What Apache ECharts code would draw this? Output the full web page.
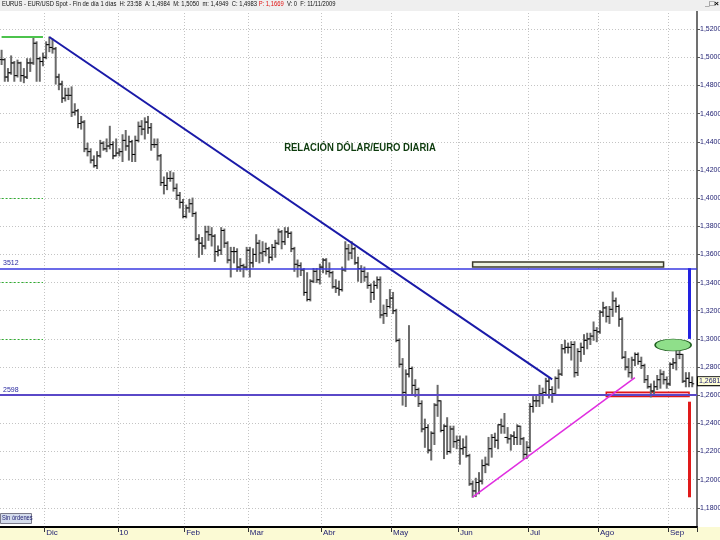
<!DOCTYPE html>
<html><head><meta charset="utf-8">
<script src="https://cdn.jsdelivr.net/npm/echarts@6/dist/echarts.min.js"></script>
<style>html,body{margin:0;padding:0;background:#fff}#c{width:720px;height:540px}</style>
</head><body><div id="c"></div>
<script>
// ---- categories (trading days, dd/mm/yy; last slot is the empty space before the axis) ----
const dates = [
'11/11/09','12/11/09','13/11/09','16/11/09','17/11/09','18/11/09','19/11/09','20/11/09','23/11/09','24/11/09','25/11/09','26/11/09','27/11/09','30/11/09',
'01/12/09','02/12/09','03/12/09','04/12/09','07/12/09','08/12/09','09/12/09','10/12/09','11/12/09','14/12/09','15/12/09','16/12/09','17/12/09','18/12/09','21/12/09','22/12/09','23/12/09','24/12/09','25/12/09','28/12/09','29/12/09','30/12/09','31/12/09',
'01/01/10','04/01/10','05/01/10','06/01/10','07/01/10','08/01/10','11/01/10','12/01/10','13/01/10','14/01/10','15/01/10','18/01/10','19/01/10','20/01/10','21/01/10','22/01/10','25/01/10','26/01/10','27/01/10','28/01/10','29/01/10',
'01/02/10','02/02/10','03/02/10','04/02/10','05/02/10','08/02/10','09/02/10','10/02/10','11/02/10','12/02/10','15/02/10','16/02/10','17/02/10','18/02/10','19/02/10','22/02/10','23/02/10','24/02/10','25/02/10','26/02/10',
'01/03/10','02/03/10','03/03/10','04/03/10','05/03/10','08/03/10','09/03/10','10/03/10','11/03/10','12/03/10','15/03/10','16/03/10','17/03/10','18/03/10','19/03/10','22/03/10','23/03/10','24/03/10','25/03/10','26/03/10','29/03/10','30/03/10','31/03/10',
'01/04/10','02/04/10','05/04/10','06/04/10','07/04/10','08/04/10','09/04/10','12/04/10','13/04/10','14/04/10','15/04/10','16/04/10','19/04/10','20/04/10','21/04/10','22/04/10','23/04/10','26/04/10','27/04/10','28/04/10','29/04/10','30/04/10',
'03/05/10','04/05/10','05/05/10','06/05/10','07/05/10','10/05/10','11/05/10','12/05/10','13/05/10','14/05/10','17/05/10','18/05/10','19/05/10','20/05/10','21/05/10','24/05/10','25/05/10','26/05/10','27/05/10','28/05/10','31/05/10',
'01/06/10','02/06/10','03/06/10','04/06/10','07/06/10','08/06/10','09/06/10','10/06/10','11/06/10','14/06/10','15/06/10','16/06/10','17/06/10','18/06/10','21/06/10','22/06/10','23/06/10','24/06/10','25/06/10','28/06/10','29/06/10','30/06/10',
'01/07/10','02/07/10','05/07/10','06/07/10','07/07/10','08/07/10','09/07/10','12/07/10','13/07/10','14/07/10','15/07/10','16/07/10','19/07/10','20/07/10','21/07/10','22/07/10','23/07/10','26/07/10','27/07/10','28/07/10','29/07/10','30/07/10',
'02/08/10','03/08/10','04/08/10','05/08/10','06/08/10','09/08/10','10/08/10','11/08/10','12/08/10','13/08/10','16/08/10','17/08/10','18/08/10','19/08/10','20/08/10','23/08/10','24/08/10','25/08/10','26/08/10','27/08/10','30/08/10','31/08/10',
'01/09/10','02/09/10','03/09/10','06/09/10','07/09/10','08/09/10','09/09/10','10/09/10','13/09/10'
];
// ---- month tick labels ----
const monthStarts = ['01/12/09','01/01/10','01/02/10','01/03/10','01/04/10','03/05/10','01/06/10','01/07/10','02/08/10','01/09/10'];
const monthLabels = ['Dic','10','Feb','Mar','Abr','May','Jun','Jul','Ago','Sep'];
// ---- daily OHLC: [open, high, low, close] ----
const ohlc = [
[1.4984,1.5050,1.4949,1.4983],[1.4983,1.4990,1.4830,1.4860],[1.4860,1.4920,1.4830,1.4890],[1.4890,1.5010,1.4880,1.4960],[1.4960,1.4970,1.4830,1.4870],[1.4870,1.4980,1.4860,1.4960],[1.4960,1.4965,1.4830,1.4870],[1.4870,1.4920,1.4820,1.4860],[1.4860,1.4990,1.4850,1.4960],[1.4960,1.4990,1.4900,1.4960],[1.4960,1.5144,1.4950,1.5100],[1.5100,1.5110,1.4830,1.4990],[1.4990,1.5000,1.4830,1.4970],[1.4970,1.5030,1.4940,1.5000],
[1.5000,1.5110,1.4990,1.5090],[1.5090,1.5144,1.5040,1.5070],[1.5070,1.5130,1.5030,1.5060],[1.5060,1.5070,1.4810,1.4860],[1.4860,1.4880,1.4770,1.4810],[1.4810,1.4830,1.4680,1.4710],[1.4710,1.4780,1.4690,1.4730],[1.4730,1.4780,1.4700,1.4730],[1.4730,1.4790,1.4580,1.4610],[1.4610,1.4670,1.4590,1.4620],[1.4620,1.4630,1.4500,1.4530],[1.4530,1.4580,1.4490,1.4540],[1.4540,1.4550,1.4330,1.4350],[1.4350,1.4390,1.4300,1.4330],[1.4330,1.4350,1.4250,1.4270],[1.4270,1.4300,1.4220,1.4230],[1.4230,1.4330,1.4210,1.4300],[1.4300,1.4410,1.4290,1.4390],[1.4390,1.4400,1.4340,1.4350],[1.4350,1.4420,1.4330,1.4370],[1.4370,1.4510,1.4350,1.4380],[1.4380,1.4400,1.4280,1.4300],[1.4300,1.4420,1.4300,1.4320],
[1.4320,1.4350,1.4300,1.4330],[1.4330,1.4450,1.4260,1.4410],[1.4410,1.4480,1.4340,1.4370],[1.4370,1.4440,1.4270,1.4400],[1.4400,1.4410,1.4260,1.4310],[1.4310,1.4440,1.4260,1.4410],[1.4410,1.4540,1.4400,1.4510],[1.4510,1.4550,1.4450,1.4490],[1.4490,1.4570,1.4420,1.4540],[1.4540,1.4580,1.4460,1.4500],[1.4500,1.4530,1.4340,1.4380],[1.4380,1.4420,1.4360,1.4380],[1.4380,1.4420,1.4270,1.4300],[1.4300,1.4310,1.4090,1.4110],[1.4110,1.4150,1.4030,1.4090],[1.4090,1.4180,1.4060,1.4140],[1.4140,1.4190,1.4120,1.4140],[1.4140,1.4180,1.4050,1.4070],[1.4070,1.4100,1.3990,1.4020],[1.4020,1.4040,1.3930,1.3970],[1.3970,1.3990,1.3860,1.3870],
[1.3870,1.3950,1.3860,1.3930],[1.3930,1.3990,1.3900,1.3960],[1.3960,1.4000,1.3870,1.3890],[1.3890,1.3900,1.3700,1.3710],[1.3710,1.3740,1.3580,1.3680],[1.3680,1.3720,1.3600,1.3660],[1.3660,1.3800,1.3640,1.3760],[1.3760,1.3800,1.3700,1.3740],[1.3740,1.3790,1.3660,1.3730],[1.3730,1.3740,1.3550,1.3620],[1.3620,1.3660,1.3590,1.3630],[1.3630,1.3790,1.3600,1.3770],[1.3770,1.3780,1.3650,1.3680],[1.3680,1.3690,1.3540,1.3560],[1.3560,1.3650,1.3440,1.3620],[1.3620,1.3650,1.3540,1.3620],[1.3620,1.3640,1.3480,1.3510],[1.3510,1.3570,1.3480,1.3520],[1.3520,1.3530,1.3440,1.3510],[1.3510,1.3650,1.3490,1.3630],
[1.3630,1.3650,1.3440,1.3540],[1.3540,1.3640,1.3510,1.3600],[1.3600,1.3740,1.3550,1.3680],[1.3680,1.3700,1.3540,1.3610],[1.3610,1.3690,1.3550,1.3620],[1.3620,1.3680,1.3590,1.3640],[1.3640,1.3650,1.3540,1.3580],[1.3580,1.3670,1.3560,1.3650],[1.3650,1.3700,1.3580,1.3680],[1.3680,1.3780,1.3670,1.3760],[1.3760,1.3770,1.3640,1.3690],[1.3690,1.3790,1.3670,1.3760],[1.3760,1.3790,1.3720,1.3750],[1.3750,1.3760,1.3620,1.3640],[1.3640,1.3650,1.3480,1.3530],[1.3530,1.3560,1.3440,1.3520],[1.3520,1.3540,1.3450,1.3490],[1.3490,1.3500,1.3310,1.3330],[1.3330,1.3470,1.3270,1.3280],[1.3280,1.3420,1.3270,1.3410],[1.3410,1.3500,1.3400,1.3480],[1.3480,1.3500,1.3400,1.3420],[1.3420,1.3530,1.3390,1.3510],
[1.3510,1.3570,1.3470,1.3560],[1.3560,1.3570,1.3460,1.3480],[1.3480,1.3540,1.3440,1.3470],[1.3470,1.3480,1.3360,1.3370],[1.3370,1.3420,1.3330,1.3360],[1.3360,1.3410,1.3310,1.3350],[1.3350,1.3510,1.3340,1.3490],[1.3490,1.3690,1.3480,1.3640],[1.3640,1.3670,1.3560,1.3610],[1.3610,1.3690,1.3570,1.3640],[1.3640,1.3650,1.3530,1.3540],[1.3540,1.3580,1.3410,1.3500],[1.3500,1.3520,1.3400,1.3480],[1.3480,1.3510,1.3410,1.3440],[1.3440,1.3470,1.3360,1.3380],[1.3380,1.3390,1.3260,1.3330],[1.3330,1.3410,1.3280,1.3380],[1.3380,1.3440,1.3360,1.3420],[1.3420,1.3440,1.3150,1.3170],[1.3170,1.3240,1.3110,1.3180],[1.3180,1.3280,1.3160,1.3230],[1.3230,1.3350,1.3220,1.3290],
[1.3290,1.3330,1.3180,1.3200],[1.3200,1.3210,1.2980,1.2990],[1.2990,1.3000,1.2800,1.2820],[1.2820,1.2860,1.2530,1.2620],[1.2620,1.2780,1.2520,1.2750],[1.2750,1.3094,1.2730,1.2790],[1.2790,1.2800,1.2600,1.2670],[1.2670,1.2710,1.2590,1.2640],[1.2640,1.2650,1.2520,1.2540],[1.2540,1.2560,1.2340,1.2360],[1.2360,1.2430,1.2230,1.2370],[1.2370,1.2390,1.2190,1.2210],[1.2210,1.2340,1.2140,1.2330],[1.2330,1.2540,1.2250,1.2530],[1.2530,1.2670,1.2450,1.2560],[1.2560,1.2560,1.2340,1.2350],[1.2350,1.2390,1.2150,1.2380],[1.2380,1.2440,1.2180,1.2200],[1.2200,1.2380,1.2190,1.2360],[1.2360,1.2380,1.2230,1.2270],[1.2270,1.2310,1.2220,1.2280],
[1.2280,1.2310,1.2110,1.2220],[1.2220,1.2290,1.2180,1.2230],[1.2230,1.2310,1.2160,1.2170],[1.2170,1.2180,1.1960,1.1970],[1.1970,1.1990,1.1876,1.1920],[1.1920,1.2010,1.1880,1.1980],[1.1980,1.2050,1.1900,1.1990],[1.1990,1.2140,1.1970,1.2100],[1.2100,1.2160,1.2050,1.2110],[1.2110,1.2300,1.2100,1.2220],[1.2220,1.2320,1.2160,1.2300],[1.2300,1.2330,1.2230,1.2280],[1.2280,1.2390,1.2220,1.2390],[1.2390,1.2430,1.2330,1.2380],[1.2380,1.2470,1.2330,1.2300],[1.2300,1.2370,1.2260,1.2290],[1.2290,1.2320,1.2210,1.2310],[1.2310,1.2340,1.2250,1.2300],[1.2300,1.2390,1.2250,1.2380],[1.2380,1.2380,1.2250,1.2290],[1.2290,1.2300,1.2150,1.2180],[1.2180,1.2270,1.2150,1.2230],
[1.2230,1.2540,1.2200,1.2520],[1.2520,1.2590,1.2480,1.2560],[1.2560,1.2600,1.2520,1.2560],[1.2560,1.2670,1.2520,1.2610],[1.2610,1.2650,1.2540,1.2620],[1.2620,1.2720,1.2600,1.2700],[1.2700,1.2720,1.2580,1.2640],[1.2640,1.2660,1.2550,1.2610],[1.2610,1.2730,1.2600,1.2720],[1.2720,1.2780,1.2650,1.2750],[1.2750,1.2960,1.2740,1.2930],[1.2930,1.2990,1.2900,1.2940],[1.2940,1.2970,1.2900,1.2940],[1.2940,1.2980,1.2850,1.2960],[1.2960,1.2980,1.2730,1.2760],[1.2760,1.2930,1.2740,1.2910],[1.2910,1.2970,1.2840,1.2940],[1.2940,1.3030,1.2890,1.2990],[1.2990,1.3040,1.2930,1.3000],[1.3000,1.3040,1.2960,1.3020],[1.3020,1.3120,1.2990,1.3060],[1.3060,1.3080,1.2980,1.3050],
[1.3050,1.3200,1.3040,1.3190],[1.3190,1.3260,1.3160,1.3220],[1.3220,1.3230,1.3120,1.3160],[1.3160,1.3230,1.3110,1.3210],[1.3210,1.3333,1.3160,1.3270],[1.3270,1.3290,1.3190,1.3230],[1.3230,1.3240,1.3090,1.3140],[1.3140,1.3150,1.2860,1.2870],[1.2870,1.2910,1.2780,1.2800],[1.2800,1.2860,1.2730,1.2760],[1.2760,1.2870,1.2720,1.2850],[1.2850,1.2900,1.2810,1.2890],[1.2890,1.2900,1.2820,1.2840],[1.2840,1.2870,1.2790,1.2810],[1.2810,1.2820,1.2690,1.2710],[1.2710,1.2740,1.2650,1.2660],[1.2660,1.2680,1.2588,1.2630],[1.2630,1.2700,1.2600,1.2660],[1.2660,1.2740,1.2640,1.2710],[1.2710,1.2780,1.2650,1.2750],[1.2750,1.2770,1.2680,1.2710],[1.2710,1.2730,1.2650,1.2680],
[1.2680,1.2830,1.2670,1.2820],[1.2820,1.2860,1.2790,1.2830],[1.2830,1.2920,1.2780,1.2890],[1.2890,1.2910,1.2860,1.2890],[1.2890,1.2890,1.2690,1.2700],[1.2700,1.2760,1.2660,1.2720],[1.2720,1.2760,1.2660,1.2690],[1.2690,1.2730,1.2660,1.2681]
];
// ---- drawn studies (category index, price) ----
const levelHigh = 1.3512, levelLow = 1.2598;
const levelHighLabel = '3512', levelLowLabel = '2598';
const lastPrice = 1.2681, lastPriceLabel = '1,2681';
const downTrend = [[15, 1.5144], [173, 1.2713]];
const upTrend = [[148, 1.1876], [199, 1.2725]];
const topMark = [[0, 1.5144], [13, 1.5144]];
const greenDots = [1.40, 1.34, 1.30];
const blueVert = [[216, 1.3502], [216, 1.3000]];
const redVert = [[216, 1.2554], [216, 1.1875]];
const boxHigh = [[148, 1.3546], [208, 1.3511]];
const boxLow = [[190, 1.2621], [216, 1.2590]];
const ellipse = [211, 1.2957];
const yTicks = {min: 1.16, max: 1.54, step: 0.02};

const sans = "'Liberation Sans',Arial,sans-serif";
const rows = ohlc.map((r, i) => [dates[i]].concat(r));

const chart = echarts.init(document.getElementById('c'), null, {renderer: 'canvas'});
const seg = (p, style) => [{coord: p[0], lineStyle: style}, {coord: p[1]}];
const isMonth = (i, v) => monthStarts.indexOf(v) >= 0;

chart.setOption({
  animation: false,
  backgroundColor: '#ffffff',
  grid: [
    {left: 0, right: 23, top: 1, bottom: 4, show: false, containLabel: false, outerBoundsMode: 'none'},
    {left: 0, right: 23, top: 526, height: 1, show: false, containLabel: false, outerBoundsMode: 'none'}
  ],
  xAxis: [
    {type: 'category', data: dates, gridIndex: 0, boundaryGap: true,
     axisLine: {show: false}, axisTick: {show: false}, axisLabel: {show: false},
     splitLine: {show: true, interval: isMonth, lineStyle: {color: '#c4c4c4', type: [1, 2], width: 1}}},
    {type: 'category', data: dates, gridIndex: 1, boundaryGap: true, position: 'bottom', z: 60,
     axisLine: {show: true, lineStyle: {color: '#000', width: 2}},
     axisTick: {show: true, length: 5, interval: isMonth, lineStyle: {color: '#333', width: 1}},
     axisLabel: {show: true, interval: isMonth, align: 'left', margin: 2, color: '#1c1c70', fontSize: 8, fontFamily: sans,
                 formatter: (v) => monthLabels[monthStarts.indexOf(v)]},
     splitLine: {show: false}}
  ],
  yAxis: [
    {type: 'value', gridIndex: 0, position: 'right', min: yTicks.min, max: yTicks.max, interval: yTicks.step,
     axisLine: {show: true, lineStyle: {color: '#707070', width: 2}},
     axisTick: {show: true, length: 3, lineStyle: {color: '#555'}},
     axisLabel: {show: true, margin: 3, color: '#1c1c70', fontSize: 7, fontFamily: sans,
                 formatter: (v) => v.toFixed(4).replace('.', ',')},
     splitLine: {show: true, lineStyle: {color: '#c4c4c4', type: [1, 2], width: 1}}},
    {type: 'value', gridIndex: 1, show: false, min: 0, max: 1}
  ],
  series: [
    {
      type: 'custom', name: 'EURUSD', xAxisIndex: 0, yAxisIndex: 0, clip: true,
      data: rows, encode: {x: 0, y: [1, 2, 3, 4]},
      renderItem: function (params, api) {
        const i = api.value(0);
        const o = api.coord([i, api.value(1)]);
        const h = api.coord([i, api.value(2)]);
        const l = api.coord([i, api.value(3)]);
        const c = api.coord([i, api.value(4)]);
        return {type: 'group', children: [
          {type: 'line', shape: {x1: h[0], y1: h[1] - 0.5, x2: l[0], y2: l[1] + 0.5}, style: {stroke: '#6a6a6a', lineWidth: 2}},
          {type: 'line', shape: {x1: o[0] - 2, y1: o[1], x2: o[0], y2: o[1]}, style: {stroke: '#000', lineWidth: 1}},
          {type: 'line', shape: {x1: c[0], y1: c[1], x2: c[0] + 2, y2: c[1]}, style: {stroke: '#000', lineWidth: 1}}
        ]};
      },
      markArea: {
        silent: true,
        data: [
          [{coord: boxHigh[0], itemStyle: {color: '#edf3e2', borderColor: '#3a3a2a', borderWidth: 1.5}}, {coord: boxHigh[1]}],
          [{coord: boxLow[0], itemStyle: {color: '#f2a6c6', borderColor: '#e01818', borderWidth: 1.5}}, {coord: boxLow[1]}]
        ]
      },
      markPoint: {
        silent: true,
        data: [{coord: ellipse, symbol: 'circle', symbolSize: [36, 12],
                itemStyle: {color: '#8fdf8a', borderColor: '#1f5f1f', borderWidth: 1}, label: {show: false}}]
      },
      markLine: {
        silent: true, symbol: ['none', 'none'], label: {show: false},
        data: [
          {yAxis: levelHigh, lineStyle: {color: '#3a3ae0', width: 1.5, type: 'solid'},
           label: {show: true, position: 'insideStartTop', formatter: levelHighLabel, color: '#2a2aa0', fontSize: 7, fontFamily: sans, distance: [3, 2]}},
          {yAxis: levelLow, lineStyle: {color: '#5a48c8', width: 2, type: 'solid'},
           label: {show: true, position: 'insideStartTop', formatter: levelLowLabel, color: '#2a2aa0', fontSize: 7, fontFamily: sans, distance: [3, 2]}},
          {yAxis: lastPrice, lineStyle: {color: 'rgba(0,0,0,0)', width: 1},
           label: {show: true, position: 'end', formatter: lastPriceLabel, color: '#1c1c70', fontSize: 7, fontFamily: sans,
                   backgroundColor: '#ffffd6', borderColor: '#000', borderWidth: 1, padding: [1, 1, 0, 1], distance: 1}},
          seg(downTrend, {color: '#1a1aa8', width: 2, type: 'solid'}),
          seg(upTrend, {color: '#e02ee0', width: 1.5, type: 'solid'}),
          seg(topMark, {color: '#4cc34c', width: 2, type: 'solid'}),
          seg(blueVert, {color: '#2222e0', width: 3, type: 'solid'}),
          seg(redVert, {color: '#e01a1a', width: 3, type: 'solid'})
        ].concat(greenDots.map(v => seg([[0, v], [13, v]], {color: '#2fae2f', width: 1, type: [2, 2]})))
      }
    },
    {type: 'line', xAxisIndex: 1, yAxisIndex: 1, data: []}
  ],
  graphic: [
    {type: 'text', z: 40, x: 360, y: 142, scaleX: 0.865,
     style: {text: 'RELACIÓN DÓLAR/EURO DIARIA', fill: '#0d3b0d', fontSize: 11, fontWeight: 'bold', fontFamily: sans,
             align: 'center', verticalAlign: 'top'}},
    {type: 'rect', z: 50, shape: {x: 0, y: 0, width: 720, height: 11}, style: {fill: '#efefef'}},
    {type: 'text', z: 51, x: 2, y: 1, scaleX: 0.835,
     style: {text: '{a|EURUS - EUR/USD Spot - Fin de día 1 días  H: 23:58  A: 1,4984  M: 1,5050  m: 1,4949  C: 1,4983 }{b|P: 1,1669}{a|  V: 0  F: 11/11/2009}',
             verticalAlign: 'top',
             rich: {a: {fill: '#111', fontSize: 7, fontFamily: sans}, b: {fill: '#e01010', fontSize: 7, fontFamily: sans}}}},
    {type: 'text', z: 51, right: 1, top: 0, style: {text: '_□×', fill: '#000', fontSize: 8, fontFamily: sans, fontWeight: 'bold'}},
    {type: 'rect', z: 50, shape: {x: 0, y: 527, width: 720, height: 13}, style: {fill: '#fbfad4'}},
    {type: 'rect', z: 52, shape: {x: 0.5, y: 513.5, width: 31, height: 10}, style: {fill: '#d4dcec', stroke: '#7a7a8a', lineWidth: 1}},
    {type: 'text', z: 53, x: 2, y: 515, scaleX: 0.82,
     style: {text: 'Sin órdenes', fill: '#1c1c70', fontSize: 7, fontFamily: sans, verticalAlign: 'top'}}
  ]
});
</script></body></html>
